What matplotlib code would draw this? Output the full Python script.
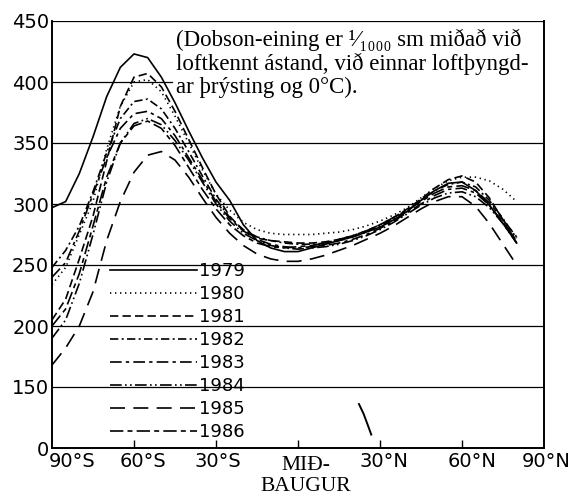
"""
Total ozone by latitude, 1979-1986 (Dobson units)
"""
import numpy as np
import matplotlib
matplotlib.use('Agg')
import matplotlib.pyplot as plt
import matplotlib.transforms as mtransforms
from matplotlib.lines import Line2D

# ---- data ----
lat = [-90, -85, -80, -75, -70, -65, -60, -55, -50, -45, -40, -35, -30, -25, -20,
       -15, -10, -5, 0, 5, 10, 15, 20, 25, 30, 35, 40, 45, 50, 55, 60, 65, 70, 75, 80]

oz_1979 = [297, 302, 325, 355, 388, 412, 423, 420, 404, 383, 360, 338, 318, 303, 283,
           270, 264, 261, 261, 264, 267, 270, 273, 277, 281, 287, 294, 303, 311, 317,
           318, 311, 299, 284, 268]
oz_1980 = [234, 248, 275, 302, 345, 380, 400, 402, 392, 372, 350, 328, 308, 295, 285,
           279, 276, 275, 275, 275, 276, 277, 279, 282, 286, 291, 297, 305, 313, 319,
           322, 322, 319, 312, 302]
oz_1981 = [205, 222, 255, 290, 335, 380, 404, 407, 396, 376, 353, 330, 308, 290, 278,
           272, 270, 269, 268, 268, 269, 271, 274, 278, 283, 289, 296, 304, 313, 320,
           323, 318, 305, 287, 268]
oz_1982 = [248, 262, 282, 310, 342, 370, 384, 386, 378, 362, 343, 323, 304, 289, 279,
           273, 270, 268, 267, 267, 268, 270, 273, 277, 282, 288, 295, 303, 311, 316,
           318, 314, 303, 288, 272]
oz_1983 = [240, 252, 278, 308, 338, 362, 374, 376, 370, 356, 338, 320, 302, 288, 278,
           271, 267, 265, 264, 265, 266, 268, 271, 275, 280, 286, 293, 300, 307, 312,
           313, 309, 299, 285, 270]
oz_1984 = [190, 205, 235, 275, 318, 350, 366, 370, 365, 352, 336, 318, 300, 286, 276,
           270, 266, 264, 263, 264, 265, 267, 270, 274, 279, 285, 292, 299, 305, 309,
           310, 306, 297, 284, 268]
oz_1985 = [168, 182, 200, 228, 270, 302, 326, 340, 343, 336, 322, 305, 289, 276, 266,
           259, 255, 253, 253, 255, 258, 262, 266, 271, 276, 282, 289, 296, 302, 306,
           306, 298, 284, 267, 250]
oz_1986 = [200, 214, 243, 282, 322, 350, 364, 368, 362, 348, 330, 312, 296, 283, 274,
           268, 265, 264, 265, 266, 268, 271, 274, 278, 283, 289, 295, 302, 309, 314,
           315, 311, 301, 287, 273]

years = ['1979', '1980', '1981', '1982', '1983', '1984', '1985', '1986']
series = [oz_1979, oz_1980, oz_1981, oz_1982, oz_1983, oz_1984, oz_1985, oz_1986]

# stray pen stroke near 30N (in axis position units)
stray_lat = [22.3, 24.0, 25.5, 26.8]
stray_pos = [136, 128, 119, 111]

ytick_vals = [0, 150, 200, 250, 300, 350, 400, 450]
xtick_vals = [-90, -60, -30, 0, 30, 60, 90]
xtick_labels = ['90°S', '60°S', '30°S', 'MIÐ-\nBAUGUR', '30°N', '60°N', '90°N']
# hand lettering sits a little right of the ticks (pixels)
xlabel_shift = [20, 9, 2, 8, 4, 10, 2]

note = ('(Dobson-eining er ¹⁄₁₀₀₀ sm miðað við\n'
        'loftkennt ástand, við einnar loftþyngd-\n'
        'ar þrýsting og 0°C).')


def ypos(v):
    # broken axis: 150..450 linear, 0 sits one step below 150
    v = np.asarray(v, dtype=float)
    return np.where(v >= 150, v, 100 + v / 150 * 50)


# ---- styling ----
styles = {
    '1979': dict(linestyle='-', lw=1.2),
    '1980': dict(linestyle=(0, (0.8, 2.2)), lw=1.2),
    '1981': dict(linestyle=(0, (5, 2.5)), lw=1.2),
    '1982': dict(linestyle=(0, (5, 2, 1.2, 2)), lw=1.2),
    '1983': dict(linestyle=(0, (7, 2.5, 2, 2.5)), lw=1.2),
    '1984': dict(linestyle=(0, (7, 2, 1, 2, 1, 2)), lw=1.2),
    '1985': dict(linestyle=(0, (9, 5)), lw=1.2),
    '1986': dict(linestyle=(0, (8, 2.5, 3, 2.5)), lw=1.2),
}

plt.rcParams['font.family'] = ['DejaVu Sans']

fig = plt.figure(figsize=(5.74, 5.0), dpi=100)
ax = fig.add_axes([52 / 574, 52 / 500, 492 / 574, 427 / 500])

for yr, vals in zip(years, series):
    ax.plot(lat, ypos(vals), color='black', zorder=3, **styles[yr])

ax.plot(stray_lat, stray_pos, color='black', lw=1.4, zorder=3)

ax.set_xlim(-90, 90)
ax.set_ylim(100, 450)

# grid (400 line stops where the note begins)
for v in ytick_vals[1:]:
    xmax = 0.244 if v == 400 else 1
    ax.axhline(ypos(v), xmax=xmax, color='black', lw=0.9, zorder=1)

ax.set_yticks(ypos(ytick_vals))
ax.set_yticklabels([str(v) for v in ytick_vals])
ax.tick_params(axis='y', length=0, pad=2, labelsize=14)

ax.set_xticks(xtick_vals)
ax.set_xticklabels(xtick_labels)
ax.tick_params(axis='x', direction='in', length=6, width=1, pad=3, labelsize=14)
for lab, dx in zip(ax.get_xticklabels(), xlabel_shift):
    lab.set_transform(lab.get_transform() +
                      mtransforms.ScaledTranslation(dx / 100, 0, fig.dpi_scale_trans))
lbl = ax.get_xticklabels()[3]
lbl.set_fontfamily(['Liberation Serif', 'DejaVu Serif'])
lbl.set_fontsize(15.5)
lbl.set_linespacing(1.1)
lbl.set_transform(lbl.get_transform() +
                  mtransforms.ScaledTranslation(0, -0.04, fig.dpi_scale_trans))
ax.xaxis.get_major_ticks()[0].tick1line.set_visible(False)
ax.xaxis.get_major_ticks()[-1].tick1line.set_visible(False)

for s in ['left', 'bottom', 'right']:
    ax.spines[s].set_linewidth(1.4)
ax.spines['top'].set_visible(False)

ax.text(0.252, 0.982, note, transform=ax.transAxes, ha='left', va='top',
        fontsize=16.5, family=['Liberation Serif', 'DejaVu Serif'], linespacing=1.1,
        zorder=2)

# legend
handles = [Line2D([], [], color='black', **styles[yr]) for yr in years]
ax.legend(handles, years, loc='upper left', bbox_to_anchor=(0.118, 0.436),
          frameon=False, fontsize=13, handlelength=4.8, handletextpad=0.1,
          labelspacing=0.28, borderpad=0, borderaxespad=0)

fig.savefig('out.png', dpi=100, facecolor='white')
